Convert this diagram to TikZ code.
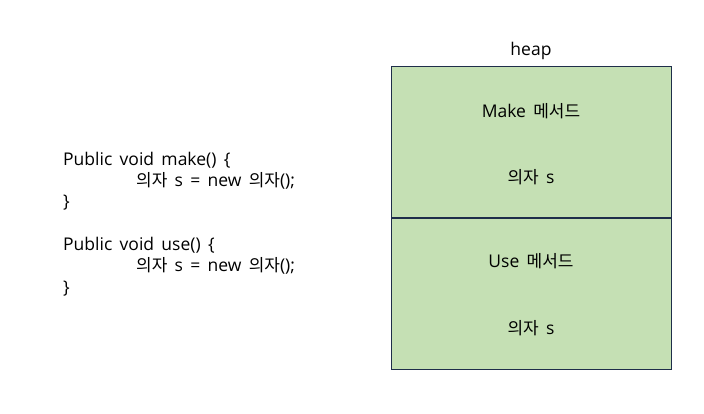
\documentclass[tikz,border=0pt]{standalone}
\usepackage{fontspec}
\setmainfont{Open Sans}
\newfontfamily\krfont{Noto Sans CJK KR}[Scale=0.97]
\newcommand{\kr}[1]{{\krfont #1}}
\newcommand{\slidefont}{\fontsize{17.5}{21.3}\selectfont\spaceskip=7.3pt\relax}
\usetikzlibrary{positioning}
\definecolor{heapfill}{HTML}{C5E0B4}
\definecolor{heapline}{HTML}{1F2E4A}
\begin{document}
\begin{tikzpicture}[x=1pt,y=-1pt,
  every node/.style={font=\slidefont, inner sep=0pt},
  frame/.style={draw=heapline, fill=heapfill, line width=0.8pt,
    minimum width=280pt, minimum height=151pt}]
  \useasboundingbox (0,0) rectangle (704,414);
  % code on the left
  \node[anchor=base west, align=left] (code) at (63,293) {%
    Public void make() \{\\
    \hspace*{73pt}\kr{의자} s = new \kr{의자}();\\
    \}\\[21.3pt]
    Public void use() \{\\
    \hspace*{73pt}\kr{의자} s = new \kr{의자}();\\
    \}};
  % heap
  \node[frame, anchor=north west] (make) at (391,66) {};
  \node[frame, anchor=north] (use) at (make.south) {};
  \node[anchor=base] (heap) at (531,56) {heap};
  \node[anchor=base] (makename) at (531,118) {Make \kr{메서드}};
  \node[anchor=base] (makevar) at (531,184) {\kr{의자} s};
  \node[anchor=base] (usename) at (531,267) {Use \kr{메서드}};
  \node[anchor=base] (usevar) at (531,334) {\kr{의자} s};
\end{tikzpicture}
\end{document}
